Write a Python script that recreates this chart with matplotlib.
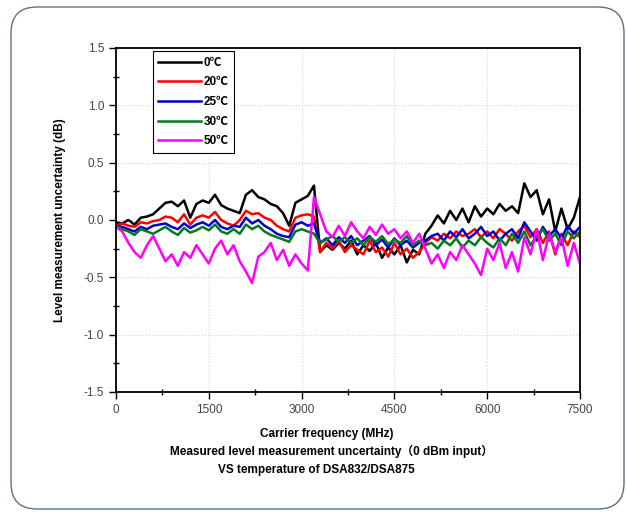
import numpy as np
import matplotlib
matplotlib.use('Agg')
import matplotlib.pyplot as plt
from matplotlib.patches import FancyBboxPatch
from matplotlib.transforms import IdentityTransform
from matplotlib.ticker import MultipleLocator, FormatStrFormatter

plt.rcParams['font.family'] = ['Liberation Sans', 'DejaVu Sans']

freq = list(range(0, 7600, 100))

t0 = [-0.02, -0.03, 0.00, -0.04, 0.02, 0.03, 0.05, 0.10, 0.15, 0.16,
      0.12, 0.17, 0.02, 0.14, 0.17, 0.15, 0.22, 0.13, 0.10, 0.08,
      0.06, 0.22, 0.26, 0.20, 0.18, 0.14, 0.12, 0.06, -0.05, 0.15,
      0.18, 0.21, 0.30, -0.28, -0.22, -0.26, -0.20, -0.25, -0.18, -0.30,
      -0.22, -0.27, -0.20, -0.33, -0.24, -0.30, -0.22, -0.37, -0.26, -0.30,
      -0.12, -0.05, 0.04, -0.03, 0.08, 0.00, 0.10, -0.02, 0.12, 0.03,
      0.10, 0.05, 0.14, 0.08, 0.12, 0.06, 0.32, 0.20, 0.26, 0.05,
      0.18, -0.10, 0.10, -0.08, 0.02, 0.20]
t20 = [-0.05, -0.03, -0.05, -0.06, -0.02, -0.03, -0.01, 0.00, 0.03, 0.02,
       -0.02, 0.05, -0.04, 0.02, 0.04, 0.02, 0.07, 0.00, -0.03, -0.05,
       0.00, 0.08, 0.05, 0.06, 0.02, 0.00, -0.05, -0.08, -0.10, 0.02,
       0.04, 0.05, 0.03, -0.28, -0.20, -0.25, -0.18, -0.28, -0.22, -0.26,
       -0.30, -0.18, -0.28, -0.24, -0.32, -0.20, -0.30, -0.25, -0.33, -0.28,
       -0.20, -0.15, -0.18, -0.12, -0.16, -0.10, -0.14, -0.12, -0.08, -0.15,
       -0.10, -0.16, -0.08, -0.12, -0.18, -0.10, -0.05, -0.15, -0.08, -0.20,
       -0.10, -0.30, -0.12, -0.22, -0.10, -0.15]
t25 = [-0.05, -0.06, -0.08, -0.10, -0.06, -0.08, -0.05, -0.04, -0.03, -0.06,
       -0.08, -0.03, -0.07, -0.04, -0.02, -0.05, 0.00, -0.06, -0.08, -0.05,
       -0.06, 0.02, -0.03, 0.00, -0.05, -0.08, -0.12, -0.14, -0.15, -0.04,
       -0.02, -0.05, -0.03, -0.20, -0.16, -0.22, -0.15, -0.20, -0.14, -0.22,
       -0.18, -0.14, -0.22, -0.17, -0.24, -0.16, -0.22, -0.18, -0.24, -0.20,
       -0.18, -0.14, -0.12, -0.18, -0.10, -0.15, -0.08, -0.16, -0.12, -0.06,
       -0.14, -0.10, -0.18, -0.12, -0.08, -0.16, -0.02, -0.10, -0.18, -0.06,
       -0.14, -0.08, -0.16, -0.05, -0.12, -0.06]
t30 = [-0.05, -0.08, -0.10, -0.13, -0.08, -0.10, -0.12, -0.09, -0.06, -0.10,
       -0.13, -0.07, -0.11, -0.09, -0.06, -0.09, -0.04, -0.10, -0.12, -0.08,
       -0.12, -0.04, -0.08, -0.05, -0.10, -0.13, -0.15, -0.17, -0.19, -0.10,
       -0.08, -0.10, -0.12, -0.20, -0.17, -0.14, -0.19, -0.15, -0.20, -0.16,
       -0.22, -0.15, -0.19, -0.14, -0.21, -0.17, -0.20, -0.14, -0.22, -0.18,
       -0.22, -0.20, -0.25, -0.18, -0.22, -0.16, -0.24, -0.18, -0.22, -0.15,
       -0.20, -0.24, -0.16, -0.22, -0.12, -0.20, -0.10, -0.22, -0.14, -0.08,
       -0.18, -0.12, -0.22, -0.10, -0.16, -0.10]
t50 = [-0.06, -0.10, -0.20, -0.28, -0.33, -0.22, -0.14, -0.25, -0.36, -0.30,
       -0.40, -0.28, -0.33, -0.22, -0.30, -0.38, -0.25, -0.18, -0.30, -0.22,
       -0.36, -0.45, -0.55, -0.32, -0.28, -0.20, -0.35, -0.26, -0.40, -0.30,
       -0.38, -0.44, 0.20, 0.05, -0.10, -0.15, -0.05, -0.14, -0.02, -0.10,
       -0.16, -0.06, -0.13, -0.04, -0.12, -0.08, -0.16, -0.10, -0.20, -0.12,
       -0.25, -0.38, -0.30, -0.42, -0.28, -0.35, -0.22, -0.30, -0.38, -0.48,
       -0.25, -0.35, -0.20, -0.42, -0.28, -0.45, -0.15, -0.30, -0.08, -0.35,
       -0.12, -0.28, -0.15, -0.40, -0.20, -0.38]

series = [(t0, 'black', '0℃'), (t20, 'red', '20℃'), (t25, '#0000cc', '25℃'),
          (t30, '#007a1f', '30℃'), (t50, '#ff00ff', '50℃')]

fig = plt.figure(figsize=(6.26, 5.12), dpi=100)
ax = fig.add_axes([116/626, 1-392/512, 464/626, 344/512])

for vals, col, lab in series:
    ax.plot(freq, vals, color=col, linewidth=1.8, label=lab)

ax.set_xlim(0, 7500)
ax.set_ylim(-1.5, 1.5)
ax.xaxis.set_major_locator(MultipleLocator(1500))
ax.xaxis.set_minor_locator(MultipleLocator(750))
ax.yaxis.set_major_locator(MultipleLocator(0.5))
ax.yaxis.set_minor_locator(MultipleLocator(0.25))
ax.yaxis.set_major_formatter(FormatStrFormatter('%.1f'))
ax.tick_params(which='major', direction='out', length=5, width=1, labelsize=8.5,
               labelcolor='#444444', top=False, right=False)
ax.tick_params(which='minor', direction='inout', length=5, width=1, top=False, right=False)
ax.grid(which='major', color='#d5d5d5', linestyle=':', linewidth=0.8)
for s in ax.spines.values():
    s.set_linewidth(1.3)

ax.set_ylabel('Level measurement uncertainty (dB)', fontsize=8.5, fontweight='bold')
ax.yaxis.set_label_coords(-0.108, 0.5)
ax.set_xlabel('Carrier frequency (MHz)', fontsize=8.5, fontweight='bold')
ax.xaxis.set_label_coords((327-116)/464, -0.105)

fig.text(332/626, 1-451/512, 'Measured level measurement uncertainty（0 dBm input）',
         ha='center', va='center', fontsize=8.5, fontweight='bold',
         family=['Liberation Sans', 'Noto Sans CJK SC', 'DejaVu Sans'])
fig.text(316/626, 1-470/512, 'VS temperature of DSA832/DSA875',
         ha='center', va='center', fontsize=8.5, fontweight='bold')

leg = ax.legend(loc='upper left', bbox_to_anchor=(0.08, 0.99), borderaxespad=0,
                handlelength=3.6, handletextpad=0.2, labelspacing=0.65,
                fancybox=False, framealpha=1, edgecolor='black', borderpad=0.45,
                prop={'weight': 'bold', 'size': 8.5,
                      'family': ['Liberation Sans', 'Noto Sans CJK SC', 'DejaVu Sans']})
leg.get_frame().set_linewidth(0.8)

border = FancyBboxPatch((11, 3), 613, 502, boxstyle='round,pad=0,rounding_size=26',
                        transform=IdentityTransform(), facecolor='none',
                        edgecolor='#5d6f8a', linewidth=1.0)
fig.patches.append(border)

fig.savefig('out.png', dpi=100)
